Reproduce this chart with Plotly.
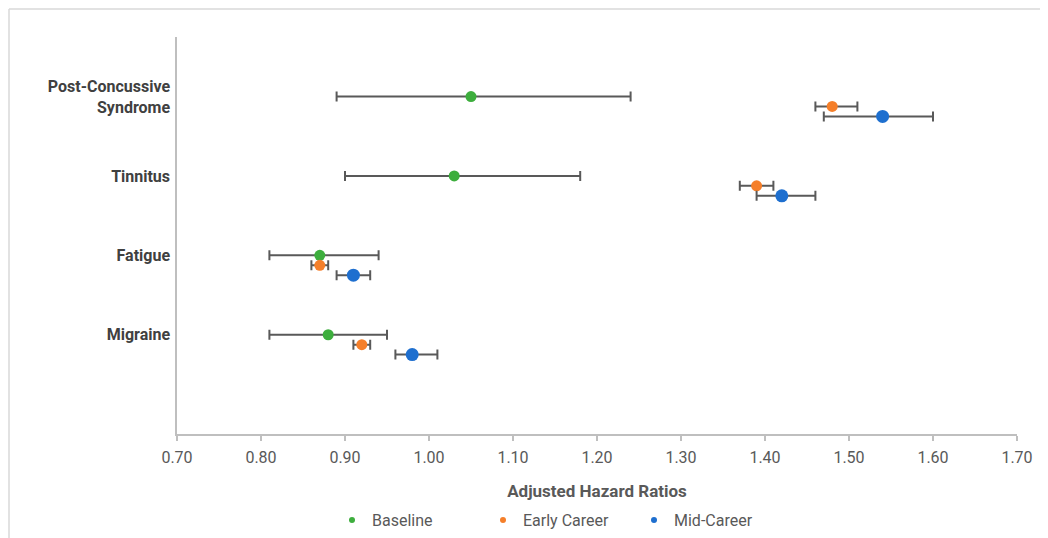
import plotly.graph_objects as go

categories = ["Migraine", "Fatigue", "Tinnitus", "Post-Concussive<br>Syndrome"]
cat_pos = [1, 2, 3, 4]

baseline = [0.88, 0.87, 1.03, 1.05]
baseline_lo = [0.81, 0.81, 0.90, 0.89]
baseline_hi = [0.95, 0.94, 1.18, 1.24]

early = [0.92, 0.87, 1.39, 1.48]
early_lo = [0.91, 0.86, 1.37, 1.46]
early_hi = [0.93, 0.88, 1.41, 1.51]

mid = [0.98, 0.91, 1.42, 1.54]
mid_lo = [0.96, 0.89, 1.39, 1.47]
mid_hi = [1.01, 0.93, 1.46, 1.60]

x_ticks = [0.7, 0.8, 0.9, 1.0, 1.1, 1.2, 1.3, 1.4, 1.5, 1.6, 1.7]

series = [
    ("Baseline", baseline, baseline_lo, baseline_hi, 0.25, "#3DAE3D", 11),
    ("Early Career", early, early_lo, early_hi, 0.125, "#F57F2A", 11),
    ("Mid-Career", mid, mid_lo, mid_hi, 0.0, "#1E6FCF", 13),
]

FONT = "Roboto, Arial, sans-serif"

# the page body adds an 8px offset; figure is sized to fill the remaining window
OFF = 8
W, H = 1048 - OFF, 538 - OFF
L, R, T, B = 177 - OFF, 1048 - 1017, 37 - OFF, 538 - 434
PW, PH = W - L - R, H - T - B


def px_x(px):
    return (px - OFF - L) / PW


def px_y(py):
    return (H - B - (py - OFF)) / PH


fig = go.Figure()
for name, vals, lo, hi, off, color, size in series:
    fig.add_trace(go.Scatter(
        x=vals,
        y=[p + off for p in cat_pos],
        mode="markers",
        name=name,
        showlegend=False,
        marker=dict(color=color, size=size),
        error_x=dict(
            type="data",
            symmetric=False,
            array=[h - v for h, v in zip(hi, vals)],
            arrayminus=[v - l for v, l in zip(vals, lo)],
            color="#595959",
            thickness=2,
            width=5,
        ),
    ))
# legend entries with small dots
for name, vals, lo, hi, off, color, size in series:
    fig.add_trace(go.Scatter(
        x=[None], y=[None], mode="markers", name=name,
        marker=dict(color=color, size=6),
    ))

fig.update_layout(
    width=W, height=H,
    margin=dict(l=L, r=R, t=T, b=B, autoexpand=False),
    plot_bgcolor="white", paper_bgcolor="white",
    font=dict(family=FONT, color="#595959", size=16),
    xaxis=dict(
        range=[0.7, 1.7],
        tickvals=x_ticks,
        ticktext=[f"{v:.2f}" for v in x_ticks],
        showgrid=False, zeroline=False, automargin=False,
        showline=True, linecolor="#BFBFBF", linewidth=1.5,
        ticks="outside", ticklen=5, tickcolor="#BFBFBF", tickwidth=1.5,
        tickfont=dict(size=16, color="#595959"),
        ticklabelstandoff=3,
        title=dict(text="<b>Adjusted Hazard Ratios</b>",
                   font=dict(size=17, color="#595959"), standoff=19),
    ),
    yaxis=dict(
        range=[0, 5],
        tickvals=[p + 0.25 for p in cat_pos],
        ticktext=[f"<b>{c}</b>" for c in categories],
        showgrid=False, zeroline=False, automargin=False,
        showline=True, linecolor="#BFBFBF", linewidth=1.5,
        ticks="",
        tickfont=dict(size=16, color="#404040"),
        ticklabelstandoff=2,
    ),
    legend=dict(
        orientation="h",
        x=px_x(332), xanchor="left",
        y=px_y(503), yanchor="top",
        font=dict(size=16, color="#595959"),
        itemwidth=30,
        entrywidth=106,
    ),
    shapes=[
        dict(type="line", xref="paper", yref="paper",
             x0=px_x(9), x1=1.2, y0=px_y(9), y1=px_y(9),
             line=dict(color="#D9D9D9", width=1.5)),
        dict(type="line", xref="paper", yref="paper",
             x0=px_x(9), x1=px_x(9), y0=px_y(9), y1=-0.4,
             line=dict(color="#D9D9D9", width=1.5)),
    ],
)

fig.write_html("out.html")
